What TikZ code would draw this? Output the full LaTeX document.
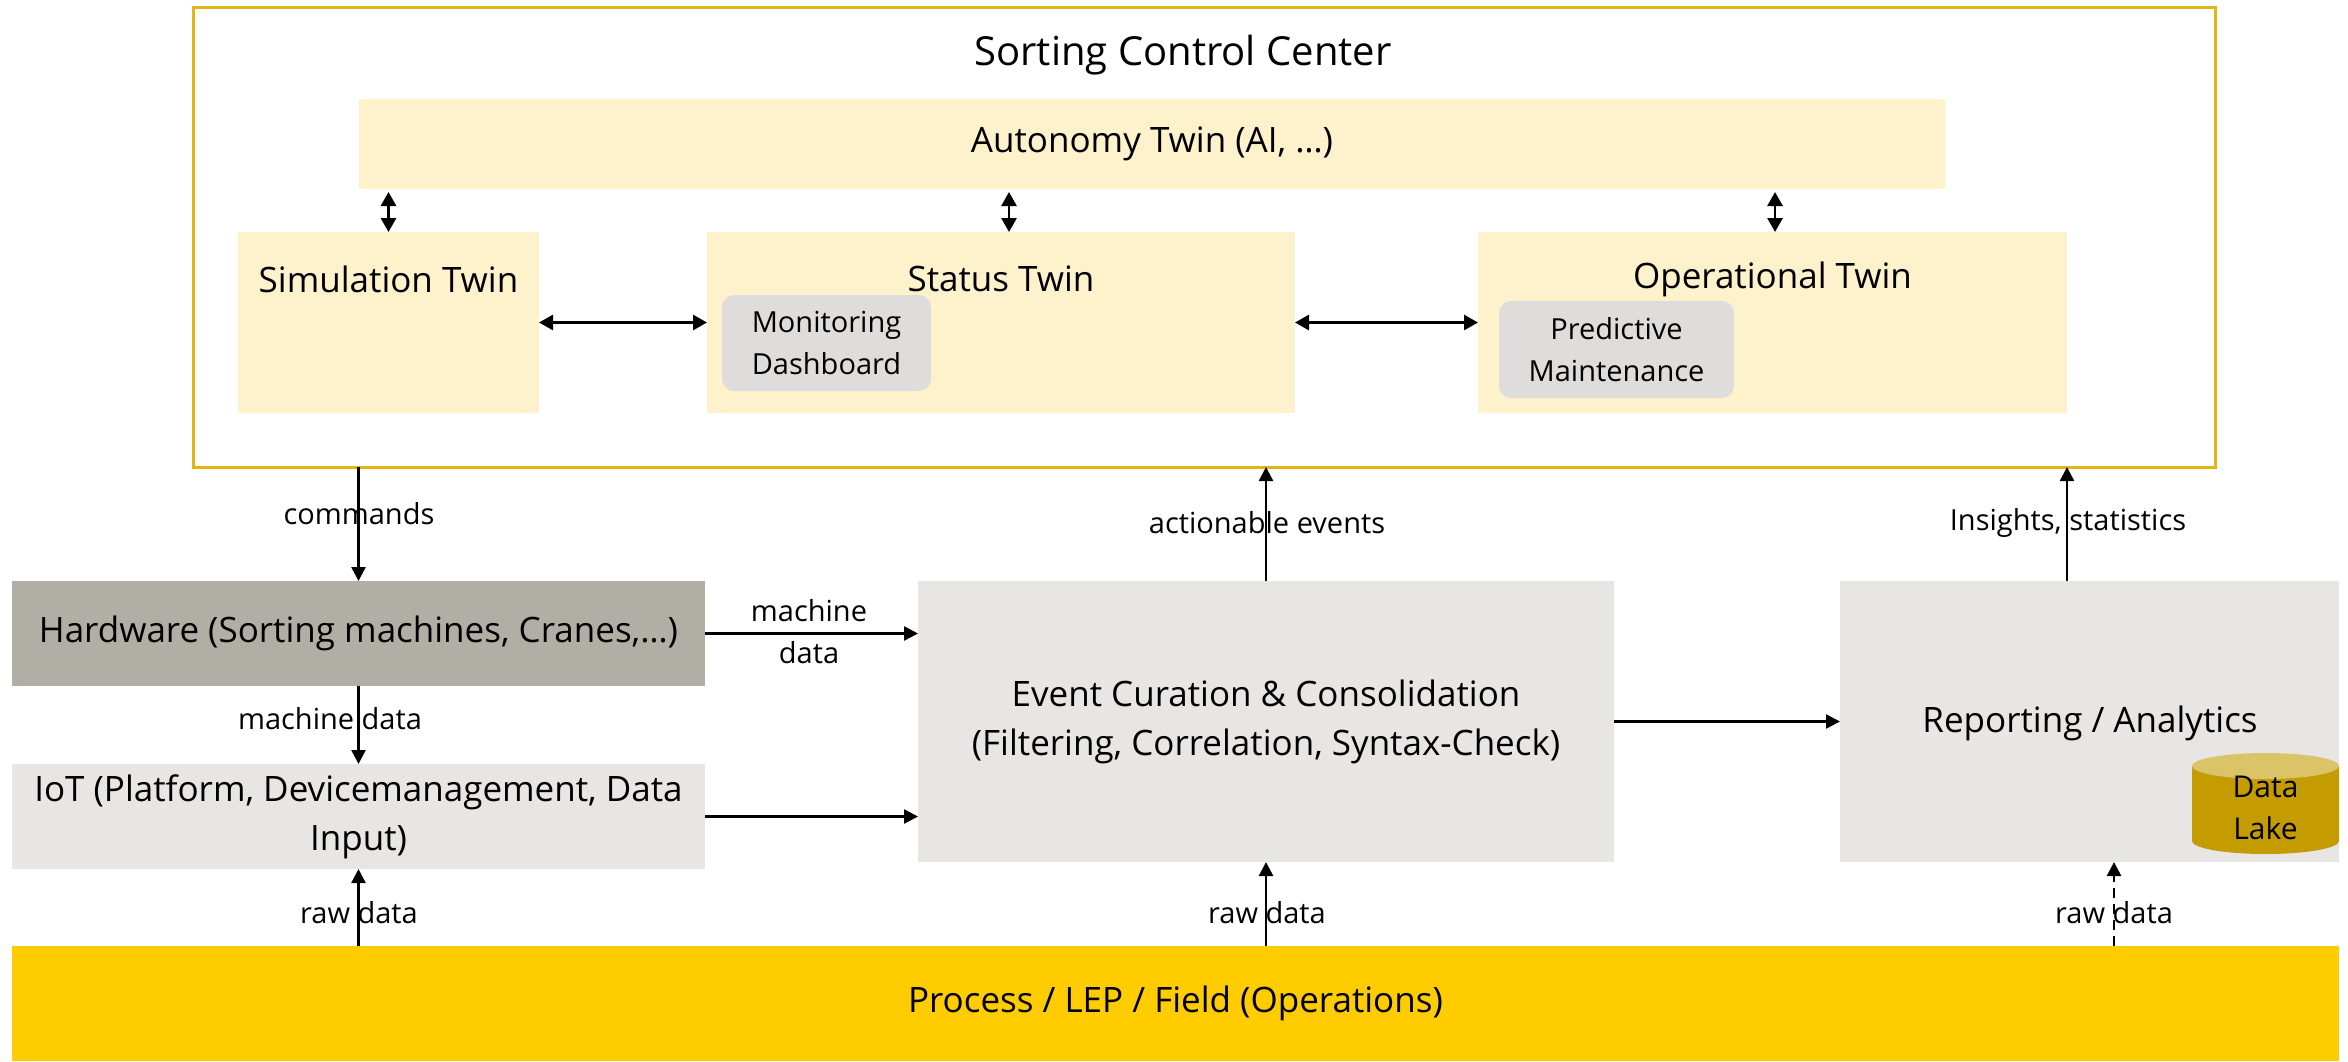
\documentclass[tikz,border=0pt]{standalone}
\usepackage{fontspec}
\setmainfont{Open Sans}
\usetikzlibrary{arrows.meta,calc}
\definecolor{goldline}{HTML}{E1B514}
\definecolor{twinfill}{HTML}{FDF2CB}
\definecolor{innergrey}{HTML}{DEDDDC}
\definecolor{hwgrey}{HTML}{B1AEA6}
\definecolor{lightgrey}{HTML}{E7E6E4}
\definecolor{procyellow}{HTML}{FFCC00}
\definecolor{lakebody}{HTML}{C49C00}
\definecolor{laketop}{HTML}{DBC468}
\tikzset{
  box/.style={rectangle, inner sep=0pt, outer sep=0pt},
  twin/.style={box, fill=twinfill},
  inner/.style={box, fill=innergrey, rounded corners=6pt},
  maintext/.style={font=\fontsize{17.5}{24.5}\selectfont, align=center, inner sep=0pt},
  titletext/.style={font=\fontsize{17.5}{24}\selectfont, inner sep=0pt},
  bigtitle/.style={font=\fontsize{20}{24}\selectfont, inner sep=0pt},
  smalltext/.style={font=\fontsize{14.5}{21}\selectfont, align=center, inner sep=0pt},
  arr/.style={line width=1.2pt, -{Triangle[length=7pt,width=7pt]}},
  dblarr/.style={line width=1.4pt, {Triangle[length=7pt,width=7.5pt]}-{Triangle[length=7pt,width=7.5pt]}},
}
\begin{document}
\begin{tikzpicture}[x=0.5pt,y=-0.5pt]
\useasboundingbox (0,0) rectangle (2348,1061);
% outer control center
\node[box, draw=goldline, line width=1.5pt, minimum width=1011pt, minimum height=230pt] (outer) at (1204,237) {};
\node[bigtitle] (title) at (1183,55) {Sorting Control Center};
\node[twin, minimum width=793pt, minimum height=45pt] (auto) at (1152,144) {};
\node[titletext] (autot) at (auto.center) {Autonomy Twin (AI, …)};
\node[twin, minimum width=150.5pt, minimum height=90.5pt] (sim) at (388.5,322.5) {};
\node[twin, minimum width=294pt, minimum height=90.5pt] (status) at (1001,322.5) {};
\node[twin, minimum width=294.5pt, minimum height=90.5pt] (oper) at (1772.5,322.5) {};
\node[titletext] (simt) at (388.5,279) {Simulation Twin};
\node[titletext] (statust) at (1001,279) {Status Twin};
\node[titletext] (opert) at (1772.5,279) {Operational Twin};
\node[inner, minimum width=104.5pt, minimum height=48pt] (mon) at (826.5,343) {};
\node[smalltext] (mont) at (mon.center) {Monitoring\\Dashboard};
\node[inner, minimum width=117.5pt, minimum height=48.5pt] (pred) at (1616.5,349.5) {};
\node[smalltext] (predt) at (pred.center) {Predictive\\Maintenance};
% lower boxes
\node[box, fill=hwgrey, minimum width=346.5pt, minimum height=52.5pt] (hw) at (358.5,633.5) {};
\node[maintext] (hwt) at (hw.center) {Hardware (Sorting machines, Cranes,…)};
\node[box, fill=lightgrey, minimum width=346.5pt, minimum height=52.5pt] (iot) at (358.5,816.5) {};
\node[maintext] (iott) at (iot.center) {IoT (Platform, Devicemanagement, Data\\Input)};
\node[box, fill=lightgrey, minimum width=348pt, minimum height=140.5pt] (event) at (1266,721.5) {};
\node[maintext] (eventt) at (event.center) {Event Curation \& Consolidation\\(Filtering, Correlation, Syntax-Check)};
\node[box, fill=lightgrey, minimum width=249.5pt, minimum height=140.5pt] (report) at (2089.5,721.5) {};
\node[maintext] (reportt) at (2090,723) {Reporting / Analytics};
\node[box, fill=procyellow, minimum width=1163.5pt, minimum height=57.5pt] (proc) at (1175.5,1003.5) {};
\node[maintext] (proct) at (proc.center) {Process / LEP / Field (Operations)};
% data lake cylinder
\fill[lakebody] (2192,766) -- (2192,841) arc[start angle=180, end angle=360, x radius=36.75pt, y radius=6.5pt] -- (2339,766) -- cycle;
\fill[laketop] (2265.5,766) ellipse [x radius=36.75pt, y radius=6.5pt];
\node[smalltext, font=\fontsize{15}{21}\selectfont] (lake) at (2265.5,808) {Data\\Lake};
% arrows within control center
\draw[dblarr, shorten <=1.5pt] (auto.south -| sim.north) -- (sim.north);
\coordinate (stx) at (1009,0);
\coordinate (opx) at (1775,0);
\draw[dblarr, shorten <=1.5pt] (auto.south -| stx) -- (status.north -| stx);
\draw[dblarr, shorten <=1.5pt] (auto.south -| opx) -- (oper.north -| opx);
\draw[dblarr] (sim.east) -- (status.west);
\draw[dblarr] (status.east) -- (oper.west);
% commands
\draw[arr] (hw.north |- outer.south) -- (hw.north);
\node[smalltext] (lcmd) at (359,514) {commands};
\draw[arr] (hw.south) -- (iot.north);
\node[smalltext] (lmd) at (330,719) {machine data};
\draw[arr] (iot.south |- proc.north) -- (iot.south);
\node[smalltext] (lraw1) at (359,913) {raw data};
\draw[arr] (hw.east) -- (hw.east -| event.west);
\node[smalltext] (lmd2) at (809,632) {machine\\data};
\draw[arr] (iot.east) -- (iot.east -| event.west);
\draw[arr] (event.north) -- (event.north |- outer.south);
\node[smalltext] (lact) at (1267,523) {actionable events};
\draw[arr] (event.south |- proc.north) -- (event.south);
\node[smalltext] (lraw2) at (1267,913) {raw data};
\draw[arr] (event.east) -- (report.west);
\draw[arr] (oper.east |- report.north) -- (oper.east |- outer.south);
\node[smalltext] (lins) at (2068,523) {Insights, statistics};
\coordinate (rx) at (2114,0);
\draw[arr, dash pattern=on 5pt off 3pt] (proc.north -| rx) -- (report.south -| rx);
\node[smalltext] (lraw3) at (2114,913) {raw data};
\end{tikzpicture}
\end{document}
